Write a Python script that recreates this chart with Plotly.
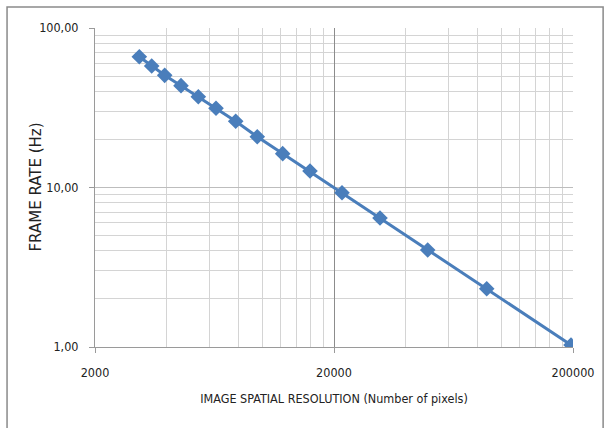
import plotly.graph_objects as go

# Data
pixels = [3065, 3453, 3914, 4580, 5411, 6417, 7757, 9550, 12200, 15870,
          21600, 31150, 49320, 87100, 196200]
frame_rate = [66.1, 57.8, 50.5, 43.5, 37.1, 31.4, 26.0, 20.8, 16.3, 12.7,
              9.28, 6.44, 4.06, 2.32, 1.03]

x_ticks = [2000, 20000, 200000]
x_tick_labels = ["2000", "20000", "200000"]
y_ticks = [1, 10, 100]
y_tick_labels = ["1,00", "10,00", "100,00"]
x_minor = [2000 * k for k in range(2, 10)] + [20000 * k for k in range(2, 10)]
y_minor = [k for k in range(2, 10)] + [10 * k for k in range(2, 10)]

narrow = "Liberation Sans Narrow, DejaVu Sans Condensed, Arial Narrow, sans-serif"

fig = go.Figure()
fig.add_trace(go.Scatter(
    x=pixels, y=frame_rate, mode="lines+markers",
    line=dict(color="#4a7ebb", width=3),
    marker=dict(symbol="diamond", size=12, color="#4a7ebb"),
    showlegend=False,
))

fig.update_layout(
    width=605, height=428,
    margin=dict(l=95, r=32, t=28, b=81),
    paper_bgcolor="white", plot_bgcolor="white",
    font=dict(family=narrow, size=12.5, color="#222"),
    xaxis=dict(
        type="log", range=[3.30103, 5.30103],
        tickmode="array", tickvals=x_ticks, ticktext=x_tick_labels,
        showgrid=True, gridcolor="#8c8c8c", gridwidth=1,
        showline=True, linecolor="#9a9a9a", linewidth=1,
        ticks="outside", ticklen=5, tickcolor="#9a9a9a",
        ticklabelstandoff=9,
        minor=dict(tickmode="array", tickvals=x_minor, showgrid=True,
                   gridcolor="#d4d4d4", gridwidth=1, ticks=""),
        title=dict(text="IMAGE SPATIAL RESOLUTION (Number of pixels)",
                   font=dict(family=narrow, size=12.5, color="#222"),
                   standoff=15),
        zeroline=False,
    ),
    yaxis=dict(
        type="log", range=[0, 2],
        tickmode="array", tickvals=y_ticks, ticktext=y_tick_labels,
        showgrid=True, gridcolor="#bdbdbd", gridwidth=1,
        showline=True, linecolor="#9a9a9a", linewidth=1,
        ticks="outside", ticklen=5, tickcolor="#9a9a9a",
        ticklabelstandoff=8,
        minor=dict(tickmode="array", tickvals=y_minor, showgrid=True,
                   gridcolor="#d4d4d4", gridwidth=1, ticks=""),
        zeroline=False,
    ),
    annotations=[dict(text="FRAME RATE (Hz)", xref="paper", yref="paper",
                      x=-0.1255, y=0.5, xanchor="center", yanchor="middle",
                      textangle=-90, showarrow=False,
                      font=dict(family="DejaVu Sans, Verdana, sans-serif",
                                size=15, color="#222"))],
    shapes=[dict(type="rect", xref="paper", yref="paper",
                 x0=-0.184, x1=1.063, y0=-0.3, y1=1.0658,
                 line=dict(color="#8a8a8a", width=1.5), layer="below")],
)

fig.write_html("out.html")
